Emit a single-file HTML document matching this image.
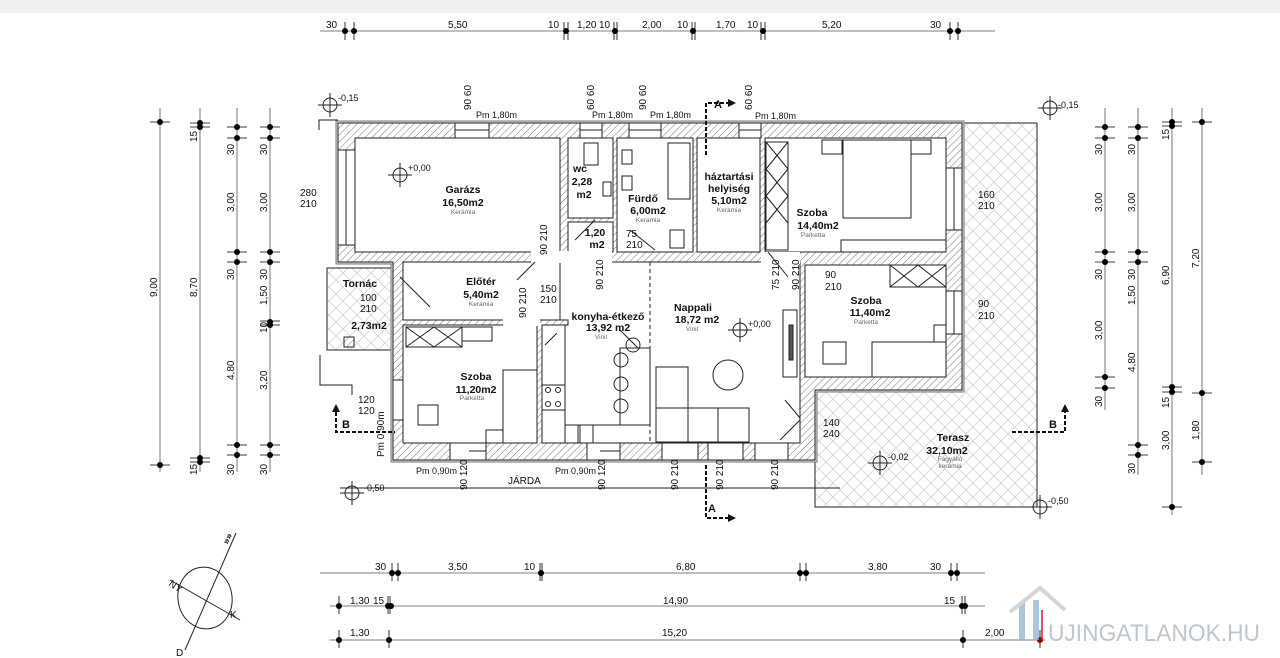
<!DOCTYPE html>
<html><head><meta charset="utf-8"><style>
html,body{margin:0;padding:0;background:#fff}
svg{display:block}
text{font-family:"Liberation Sans",sans-serif;fill:#111}
.d{font-size:10px;fill:#333}
.r{font-size:10.5px;font-weight:bold;text-anchor:middle}
.s{font-size:6.5px;fill:#666;text-anchor:middle}
.l{stroke:#222;stroke-width:1;fill:none}
.t{stroke:#555;stroke-width:0.8;fill:none}
</style></head><body>
<svg width="1280" height="658" viewBox="0 0 1280 658" xmlns="http://www.w3.org/2000/svg">
<defs>
<pattern id="h" width="5" height="5" patternUnits="userSpaceOnUse" patternTransform="rotate(45)"><rect width="5" height="5" fill="#fff"/><line x1="0" y1="0" x2="0" y2="5" stroke="#555" stroke-width="0.8"/></pattern>
<pattern id="x" width="14" height="14" patternUnits="userSpaceOnUse"><path d="M0 0L14 14M14 0L0 14" stroke="#ccc" stroke-width="0.7"/></pattern>
</defs>
<rect x="0" y="0" width="1280" height="13" fill="#eef0f4"/>

<!-- top dimension -->
<g class="t"><line x1="320" y1="31" x2="995" y2="31"/>
<g stroke="#000"><path d="M345 22v18M354 22v18M564 22v18M568 22v18M614 22v18M617 22v18M692 22v18M695 22v18M761 22v18M765 22v18M950 22v18M958 22v18"/></g></g>
<g fill="#000"><circle cx="345" cy="31" r="3"/><circle cx="354" cy="31" r="3"/><circle cx="566" cy="31" r="3"/><circle cx="615" cy="31" r="3"/><circle cx="693" cy="31" r="3"/><circle cx="763" cy="31" r="3"/><circle cx="950" cy="31" r="3"/><circle cx="958" cy="31" r="3"/></g>
<g class="d"><text x="326" y="28">30</text><text x="448" y="28">5,50</text><text x="548" y="28">10</text><text x="577" y="28">1,20</text><text x="599" y="28">10</text><text x="642" y="28">2,00</text><text x="677" y="28">10</text><text x="716" y="28">1,70</text><text x="747" y="28">10</text><text x="822" y="28">5,20</text><text x="930" y="28">30</text></g>

<!-- terrace -->
<path d="M962 123H1037V507H815V390H962Z" fill="url(#x)" stroke="#222"/>
<!-- porch -->
<rect x="327" y="268" width="66" height="82" fill="url(#x)" stroke="#222"/>
<rect x="344" y="337" width="10" height="10" fill="url(#h)" stroke="#222"/>
<!-- outer plaster -->
<path d="M336 121H964V392H817V462H391V264H336Z" fill="#ddd" stroke="#777"/>
<!-- walls -->
<path d="M338 123H962V390H815V460H393V262H338Z" fill="url(#h)" stroke="#222"/>
<!-- room interiors -->
<g fill="#fff" stroke="#222">
<rect x="355" y="138" width="205" height="114"/>
<rect x="568" y="138" width="45" height="80"/>
<rect x="568" y="222" width="45" height="30"/>
<rect x="617" y="138" width="76" height="114"/>
<rect x="697" y="138" width="63" height="114"/>
<rect x="765" y="138" width="181" height="114"/>
<rect x="805" y="265" width="141" height="112"/>
<rect x="403" y="262" width="157" height="58"/>
<rect x="403" y="325" width="134" height="118"/>
<path d="M560 262H800V443H542V325H568V320H560Z"/>
</g>
<g fill="#fff"><rect x="531" y="251" width="79" height="12"/><rect x="569" y="251" width="43" height="12"/><rect x="503" y="319" width="37" height="7"/><rect x="761" y="252" width="39" height="12"/></g>
<!-- windows -->
<g fill="#fff" stroke="#222"><rect x="455" y="123" width="34" height="15"/><rect x="580" y="123" width="22" height="15"/><rect x="629" y="123" width="32" height="15"/><rect x="739" y="123" width="22" height="15"/><rect x="338" y="150" width="17" height="95"/><rect x="946" y="168" width="16" height="62"/><rect x="946" y="291" width="16" height="43"/><rect x="393" y="380" width="10" height="40"/><rect x="450" y="443" width="36" height="17"/><rect x="587" y="443" width="33" height="17"/><rect x="662" y="443" width="36" height="17"/><rect x="708" y="443" width="35" height="17"/><rect x="755" y="443" width="33" height="17"/></g>
<g class="l" stroke-width="0.5"><path d="M455 130H489M580 130H602M629 130H661M739 130H761M346 150V245M954 168V230M954 291V334M469 451H486M600 451H620"/></g>
<!-- furniture -->
<g class="l" stroke-width="0.8">
<rect x="584" y="143" width="14" height="22"/><rect x="622" y="150" width="10" height="14"/><rect x="622" y="176" width="10" height="14"/><rect x="668" y="143" width="22" height="56"/><rect x="670" y="230" width="14" height="18"/><rect x="603" y="182" width="8" height="14"/>
<rect x="766" y="142" width="22" height="108"/><path d="M766 142l22 27M788 142l-22 27M766 169l22 27M788 169l-22 27M766 196l22 27M788 196l-22 27"/>
<rect x="843" y="140" width="68" height="78"/><rect x="822" y="140" width="20" height="14"/><rect x="911" y="140" width="20" height="14"/><rect x="841" y="240" width="105" height="12"/>
<rect x="890" y="265" width="56" height="22"/><path d="M890 265l28 22M918 265l-28 22M918 265l28 22M946 265l-28 22"/>
<rect x="872" y="342" width="74" height="35"/><rect x="823" y="342" width="23" height="22"/><rect x="934" y="325" width="12" height="17"/><rect x="783" y="310" width="14" height="67"/><rect x="789" y="325" width="4" height="35" fill="#555"/>
<rect x="406" y="327" width="56" height="20"/><path d="M406 327l28 20M434 327l-28 20M434 327l28 20M462 327l-28 20"/><rect x="462" y="327" width="30" height="14"/>
<rect x="503" y="370" width="34" height="73"/><rect x="418" y="405" width="20" height="20"/><rect x="486" y="430" width="17" height="13"/>
<rect x="542" y="325" width="23" height="118"/><rect x="542" y="385" width="23" height="25"/><circle cx="548" cy="390" r="2.5"/><circle cx="558" cy="390" r="2.5"/><circle cx="548" cy="404" r="2.5"/><circle cx="558" cy="404" r="2.5"/>
<path d="M565 425H650M565 345V425"/><rect x="565" y="425" width="13" height="18"/><rect x="580" y="425" width="13" height="18"/>
<rect x="620" y="348" width="30" height="77"/><circle cx="633" cy="345" r="7"/><circle cx="621" cy="360" r="7"/><circle cx="621" cy="384" r="7"/><circle cx="621" cy="406" r="7"/>
<rect x="656" y="367" width="32" height="75"/><rect x="656" y="408" width="93" height="34"/><path d="M688 408V442M718 408V442"/><circle cx="728" cy="375" r="15"/>
<path d="M650 262V443" stroke-dasharray="4 3"/>
<path d="M535 262l-18 18M400 277l30 30M620 330l18 18M768 252l20 25M785 400l15 18M780 440l20-20M545 345l12-12M575 240l20-20M630 230l25 20"/>
</g>
<!-- section markers -->
<g stroke="#111" stroke-width="2" stroke-dasharray="4 2" fill="none"><path d="M706 155V103H728"/><path d="M706 465V518H728"/><path d="M336 412V432H395"/><path d="M1012 432H1065V412"/></g>
<g fill="#111"><path d="M728 99l8 4-8 4z"/><path d="M728 514l8 4-8 4z"/><path d="M332 412l4-8 4 8z"/><path d="M1061 412l4-8 4 8z"/></g>
<g style="font-size:11px;font-weight:bold"><text x="714" y="108">A</text><text x="708" y="512">A</text><text x="342" y="428">B</text><text x="1049" y="428">B</text></g>
<!-- level markers -->
<g class="l"><circle cx="330" cy="105" r="7"/><path d="M318 105h24M330 93v24"/><circle cx="400" cy="175" r="7"/><path d="M388 175h24M400 163v24"/><circle cx="740" cy="330" r="7"/><path d="M728 330h24M740 318v24"/><circle cx="880" cy="463" r="7"/><path d="M868 463h24M880 451v24"/><circle cx="352" cy="493" r="7"/><path d="M340 493h24M352 481v24M340 488H840"/><circle cx="1050" cy="108" r="7"/><path d="M1038 108h24M1050 96v24"/><circle cx="1040" cy="507" r="7"/><path d="M1028 507h24M1040 495v24"/><path d="M319 130V120H338M320 355V385H352V395"/></g>
<g class="d" style="font-size:9px"><text x="338" y="101">-0,15</text><text x="408" y="171">+0,00</text><text x="748" y="327">+0,00</text><text x="888" y="460">-0,02</text><text x="364" y="491">-0,50</text><text x="1058" y="108">-0,15</text><text x="1048" y="504">-0,50</text></g>
<!-- rooms -->
<text class="r" x="463" y="193">Garázs</text><text class="r" x="463" y="206">16,50m2</text><text class="s" x="463" y="214">Kerámia</text>
<text class="r" x="580" y="172">wc</text><text class="r" x="582" y="185">2,28</text><text class="r" x="584" y="198">m2</text>
<text class="r" x="595" y="236">1,20</text><text class="r" x="597" y="248">m2</text>
<text class="r" x="643" y="202">Fürdő</text><text class="r" x="648" y="214">6,00m2</text><text class="s" x="648" y="222">Kerámia</text>
<text class="r" x="729" y="180">háztartási</text><text class="r" x="729" y="192">helyiség</text><text class="r" x="729" y="204">5,10m2</text><text class="s" x="729" y="212">Kerámia</text>
<text class="r" x="812" y="216">Szoba</text><text class="r" x="818" y="229">14,40m2</text><text class="s" x="813" y="237">Parketta</text>
<text class="r" x="481" y="285">Előtér</text><text class="r" x="481" y="298">5,40m2</text><text class="s" x="481" y="306">Kerámia</text>
<text class="r" x="608" y="320">konyha-étkező</text><text class="r" x="608" y="331">13,92 m2</text><text class="s" x="601" y="339">Vinil</text>
<text class="r" x="693" y="311">Nappali</text><text class="r" x="697" y="323">18,72 m2</text><text class="s" x="692" y="331">Vinil</text>
<text class="r" x="866" y="304">Szoba</text><text class="r" x="870" y="316">11,40m2</text><text class="s" x="866" y="324">Parketta</text>
<text class="r" x="476" y="380">Szoba</text><text class="r" x="476" y="393">11,20m2</text><text class="s" x="472" y="400">Parketta</text>
<text class="r" x="360" y="287">Tornác</text><text class="r" x="369" y="329">2,73m2</text>
<text class="r" x="953" y="441">Terasz</text><text class="r" x="947" y="454">32,10m2</text><text class="s" x="950" y="461">Fagyálló</text><text class="s" x="950" y="468">kerámia</text>
<!-- opening labels -->
<g class="d" style="font-size:10px">
<text x="300" y="196">280</text><text x="300" y="207">210</text><text x="360" y="301">100</text><text x="360" y="312">210</text>
<text x="540" y="292">150</text><text x="540" y="303">210</text><text x="358" y="403">120</text><text x="358" y="414">120</text>
<text x="978" y="198">160</text><text x="978" y="209">210</text><text x="978" y="307">90</text><text x="978" y="319">210</text>
<text x="825" y="278">90</text><text x="825" y="290">210</text><text x="823" y="426">140</text><text x="823" y="437">240</text>
<text x="626" y="237">75</text><text x="626" y="248">210</text>
<text x="592" y="118" style="font-size:9px">Pm 1,80m</text><text x="476" y="118" style="font-size:9px">Pm 1,80m</text><text x="650" y="118" style="font-size:9px">Pm 1,80m</text><text x="755" y="119" style="font-size:9px">Pm 1,80m</text>
<text x="416" y="474" style="font-size:9px">Pm 0,90m</text><text x="555" y="474" style="font-size:9px">Pm 0,90m</text><text x="508" y="484">JÁRDA</text>
</g>
<g class="d" style="font-size:10px">
<text transform="translate(471,110) rotate(-90)">90 60</text><text transform="translate(594,110) rotate(-90)">60 60</text><text transform="translate(646,110) rotate(-90)">90 60</text><text transform="translate(752,110) rotate(-90)">60 60</text>
<text transform="translate(547,255) rotate(-90)">90 210</text><text transform="translate(603,290) rotate(-90)">90 210</text><text transform="translate(526,318) rotate(-90)">90 210</text><text transform="translate(779,290) rotate(-90)">75 210</text><text transform="translate(799,290) rotate(-90)">90 210</text>
<text transform="translate(384,457) rotate(-90)">Pm 0,90m</text>
<text transform="translate(467,490) rotate(-90)">90 120</text><text transform="translate(605,490) rotate(-90)">90 120</text><text transform="translate(678,490) rotate(-90)">90 210</text><text transform="translate(723,490) rotate(-90)">90 210</text><text transform="translate(778,490) rotate(-90)">90 210</text>
</g>
<!-- left dims -->
<g class="t"><path d="M160 108V472M200 108V472M237 108V472M270 108V472"/>
<path d="M150 122h20M150 465h20M190 123h20M190 127h20M190 458h20M190 462h20M227 127h20M227 138h20M227 252h20M227 262h20M227 445h20M227 455h20M260 127h20M260 138h20M260 252h20M260 262h20M260 321h20M260 325h20M260 445h20M260 455h20" stroke="#000"/></g>
<g fill="#000"><circle cx="160" cy="122" r="3"/><circle cx="160" cy="465" r="3"/><circle cx="200" cy="123" r="3"/><circle cx="200" cy="127" r="3"/><circle cx="200" cy="458" r="3"/><circle cx="200" cy="462" r="3"/><circle cx="237" cy="127" r="3"/><circle cx="237" cy="138" r="3"/><circle cx="237" cy="252" r="3"/><circle cx="237" cy="262" r="3"/><circle cx="237" cy="445" r="3"/><circle cx="237" cy="455" r="3"/><circle cx="270" cy="127" r="3"/><circle cx="270" cy="138" r="3"/><circle cx="270" cy="252" r="3"/><circle cx="270" cy="262" r="3"/><circle cx="270" cy="322" r="3"/><circle cx="270" cy="325" r="3"/><circle cx="270" cy="445" r="3"/><circle cx="270" cy="455" r="3"/></g>
<g class="d">
<text transform="translate(157,297) rotate(-90)">9,00</text><text transform="translate(197,297) rotate(-90)">8,70</text><text transform="translate(197,142) rotate(-90)">15</text><text transform="translate(197,475) rotate(-90)">15</text>
<text transform="translate(234,155) rotate(-90)">30</text><text transform="translate(234,212) rotate(-90)">3,00</text><text transform="translate(234,280) rotate(-90)">30</text><text transform="translate(234,380) rotate(-90)">4,80</text><text transform="translate(234,475) rotate(-90)">30</text>
<text transform="translate(267,155) rotate(-90)">30</text><text transform="translate(267,212) rotate(-90)">3,00</text><text transform="translate(267,280) rotate(-90)">30</text><text transform="translate(267,305) rotate(-90)">1,50</text><text transform="translate(267,333) rotate(-90)">10</text><text transform="translate(267,390) rotate(-90)">3,20</text><text transform="translate(267,475) rotate(-90)">30</text>
</g>
<!-- right dims -->
<g class="t"><path d="M1105 108V410M1138 108V475M1172 108V515M1202 108V475"/>
<path d="M1095 127h20M1095 138h20M1095 252h20M1095 262h20M1095 377h20M1095 388h20M1128 127h20M1128 138h20M1128 252h20M1128 262h20M1128 445h20M1128 455h20M1162 122h20M1162 126h20M1162 387h20M1162 392h20M1162 507h20M1192 122h20M1192 393h20M1192 462h20" stroke="#000"/></g>
<g fill="#000"><circle cx="1105" cy="127" r="3"/><circle cx="1105" cy="138" r="3"/><circle cx="1105" cy="252" r="3"/><circle cx="1105" cy="262" r="3"/><circle cx="1105" cy="377" r="3"/><circle cx="1105" cy="388" r="3"/><circle cx="1138" cy="127" r="3"/><circle cx="1138" cy="138" r="3"/><circle cx="1138" cy="252" r="3"/><circle cx="1138" cy="262" r="3"/><circle cx="1138" cy="445" r="3"/><circle cx="1138" cy="455" r="3"/><circle cx="1172" cy="122" r="3"/><circle cx="1172" cy="126" r="3"/><circle cx="1172" cy="387" r="3"/><circle cx="1172" cy="392" r="3"/><circle cx="1172" cy="507" r="3"/><circle cx="1202" cy="122" r="3"/><circle cx="1202" cy="393" r="3"/><circle cx="1202" cy="462" r="3"/></g>
<g class="d">
<text transform="translate(1102,155) rotate(-90)">30</text><text transform="translate(1102,212) rotate(-90)">3,00</text><text transform="translate(1102,280) rotate(-90)">30</text><text transform="translate(1102,340) rotate(-90)">3,00</text><text transform="translate(1102,407) rotate(-90)">30</text>
<text transform="translate(1135,155) rotate(-90)">30</text><text transform="translate(1135,212) rotate(-90)">3,00</text><text transform="translate(1135,280) rotate(-90)">30</text><text transform="translate(1135,305) rotate(-90)">1,50</text><text transform="translate(1135,372) rotate(-90)">4,80</text><text transform="translate(1135,474) rotate(-90)">30</text>
<text transform="translate(1169,140) rotate(-90)">15</text><text transform="translate(1169,285) rotate(-90)">6,90</text><text transform="translate(1169,408) rotate(-90)">15</text><text transform="translate(1169,450) rotate(-90)">3,00</text>
<text transform="translate(1199,268) rotate(-90)">7,20</text><text transform="translate(1199,440) rotate(-90)">1,80</text>
</g>
<!-- bottom dims -->
<g class="t"><path d="M320 573H985M330 606H985M330 640H1045"/>
<path d="M392 563v18M398 563v18M540 563v18M542 563v18M800 563v18M806 563v18M951 563v18M957 563v18M339 596v18M388 596v18M390 596v18M962 596v18M965 596v18M339 630v18M389 630v18M963 630v18M1040 630v18" stroke="#000"/></g>
<g fill="#000"><circle cx="392" cy="573" r="3"/><circle cx="398" cy="573" r="3"/><circle cx="541" cy="573" r="3"/><circle cx="800" cy="573" r="3"/><circle cx="806" cy="573" r="3"/><circle cx="951" cy="573" r="3"/><circle cx="957" cy="573" r="3"/><circle cx="339" cy="606" r="3"/><circle cx="388" cy="606" r="3"/><circle cx="391" cy="606" r="3"/><circle cx="962" cy="606" r="3"/><circle cx="965" cy="606" r="3"/><circle cx="339" cy="640" r="3"/><circle cx="389" cy="640" r="3"/><circle cx="963" cy="640" r="3"/><circle cx="1040" cy="640" r="3" fill="#800"/></g>
<g class="d"><text x="375" y="570">30</text><text x="448" y="570">3,50</text><text x="524" y="570">10</text><text x="676" y="570">6,80</text><text x="868" y="570">3,80</text><text x="930" y="570">30</text>
<text x="350" y="604">1,30</text><text x="373" y="604">15</text><text x="663" y="604">14,90</text><text x="944" y="604">15</text>
<text x="350" y="636">1,30</text><text x="662" y="636">15,20</text><text x="985" y="636">2,00</text></g>
<!-- compass -->
<g class="l" stroke-width="1.2"><ellipse cx="205" cy="598" rx="27" ry="31" transform="rotate(-10 205 598)"/><path d="M185 650L236 533M170 580L240 620"/></g>
<text x="228" y="545" style="font-size:10px;font-weight:bold" transform="rotate(-65 228 545)">»»</text>
<g class="d" style="font-size:10px"><text x="168" y="585" transform="rotate(35 168 585)">NY</text><text x="230" y="618">K</text><text x="176" y="656">D</text></g>
<!-- watermark -->
<g opacity="0.75"><path d="M1022 640V602M1036 640V600" stroke="#8fb3cf" stroke-width="6" fill="none"/><path d="M1010 612L1040 588L1065 610" stroke="#c8c8c8" stroke-width="4" fill="none"/><path d="M1042 640V610" stroke="#c23" stroke-width="2"/>
<text x="1048" y="641" textLength="212" lengthAdjust="spacingAndGlyphs" style="font-size:24px;fill:#aab4bd">UJINGATLANOK.HU</text></g>
</svg>
</body></html>
